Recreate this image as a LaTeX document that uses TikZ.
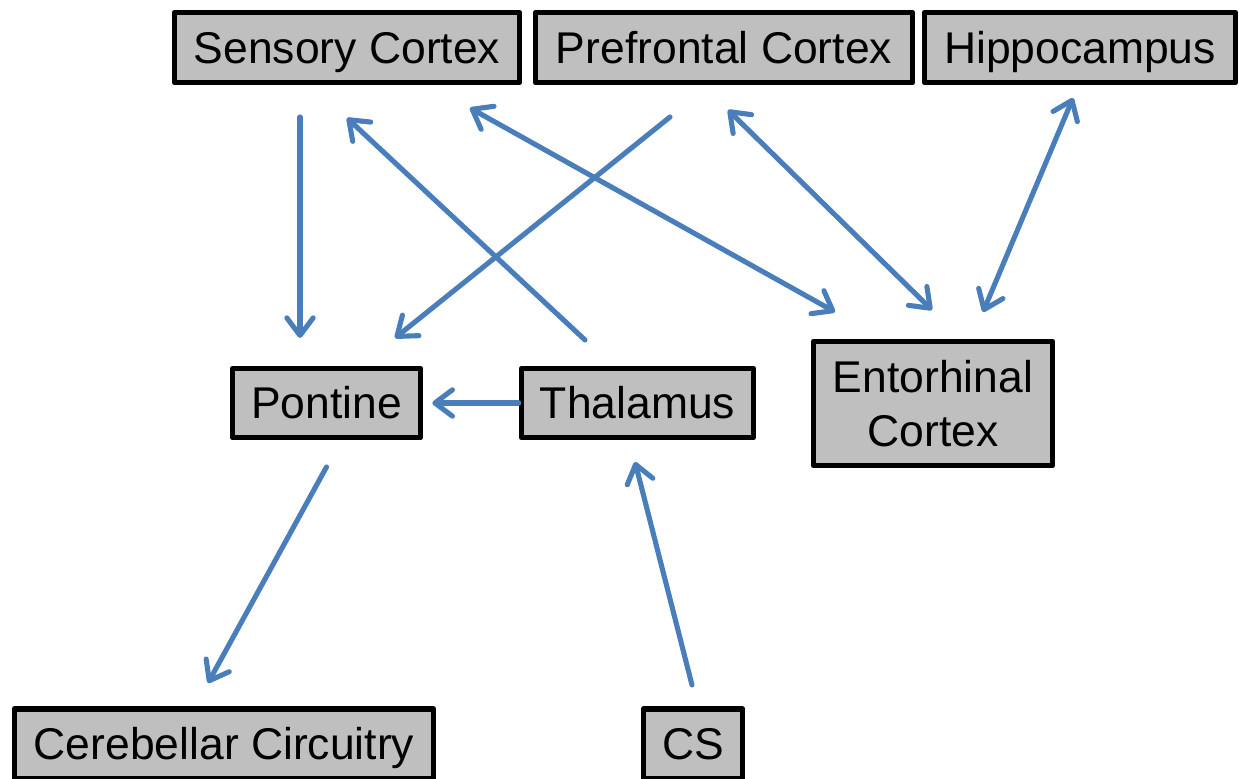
\documentclass[tikz,border=0pt]{standalone}
\usepackage{fontspec}
\setmainfont{Liberation Sans}
\definecolor{boxgray}{RGB}{191,191,191}
\definecolor{linkblue}{RGB}{74,126,187}
\usetikzlibrary{arrows.meta}
\tikzstyle{region}=[rectangle,draw=black,fill=boxgray,line width=3.2pt,line join=round,inner sep=0pt,align=center,font=\fontsize{25.3}{30.5}\selectfont]
\tikzstyle{oneline}=[region,text height=18.1pt,text depth=0pt]
\tikzstyle{link}=[draw,color=linkblue,line width=2.9pt,line cap=round,-{Straight Barb[round,length=10pt,width=15pt]}]
\tikzstyle{dlink}=[link,{Straight Barb[round,length=10pt,width=15pt]}-{Straight Barb[round,length=10pt,width=15pt]}]

\begin{document}
\begin{tikzpicture}

            \node[oneline,minimum width=6.9cm,minimum height=1.4cm] (sensory) at (6.94,14.61) {Sensory Cortex};
            \node[oneline,minimum width=7.54cm,minimum height=1.4cm] (prefrontal) at (14.48,14.61) {Prefrontal Cortex};
            \node[oneline,minimum width=6.22cm,minimum height=1.4cm] (hippo) at (21.6,14.61) {Hippocampus};
            \node[oneline,minimum width=3.76cm,minimum height=1.38cm] (pontine) at (6.53,7.5) {Pontine};
            \node[oneline,minimum width=4.64cm,minimum height=1.38cm] (thalamus) at (12.75,7.5) {Thalamus};
            \node[region,minimum width=4.78cm,minimum height=2.48cm] (entorhinal) at (18.66,7.49) {Entorhinal\\Cortex};
            \node[oneline,minimum width=8.38cm,minimum height=1.4cm] (cerebellar) at (4.48,0.68) {Cerebellar Circuitry};
            \node[oneline,minimum width=1.98cm,minimum height=1.4cm] (cs) at (13.86,0.68) {CS};

            \path[link] ([shift={(-0.94,-1.39)}]sensory.center) -- ([shift={(-0.53,1.30)}]pontine.center);
            \path[link] ([shift={(-1.05,1.26)}]thalamus.center) -- ([shift={(0,-1.41)}]sensory.center);
            \path[link] ([shift={(-1.08,-1.39)}]prefrontal.center) -- ([shift={(1.37,1.30)}]pontine.center);
            \path[dlink] ([shift={(2.46,-1.21)}]sensory.center) -- ([shift={(-1.96,1.83)}]entorhinal.center);
            \path[dlink] ([shift={(0.08,-1.25)}]prefrontal.center) -- ([shift={(-0.02,1.87)}]entorhinal.center);
            \path[dlink] ([shift={(-0.14,-1.01)}]hippo.center) -- ([shift={(1.00,1.83)}]entorhinal.center);
            \path[link] (thalamus.west) -- ([xshift=0.18cm]pontine.east);
            \path[link] ([shift={(0,-1.28)}]pontine.center) -- ([shift={(-0.32,1.22)}]cerebellar.center);
            \path[link] ([shift={(-0.02,1.18)}]cs.center) -- ([shift={(-0.05,-1.18)}]thalamus.center);

            \pgfresetboundingbox
            \path [use as bounding box] (0,0) rectangle (24.78,15.56);
        \end{tikzpicture}
\end{document}
